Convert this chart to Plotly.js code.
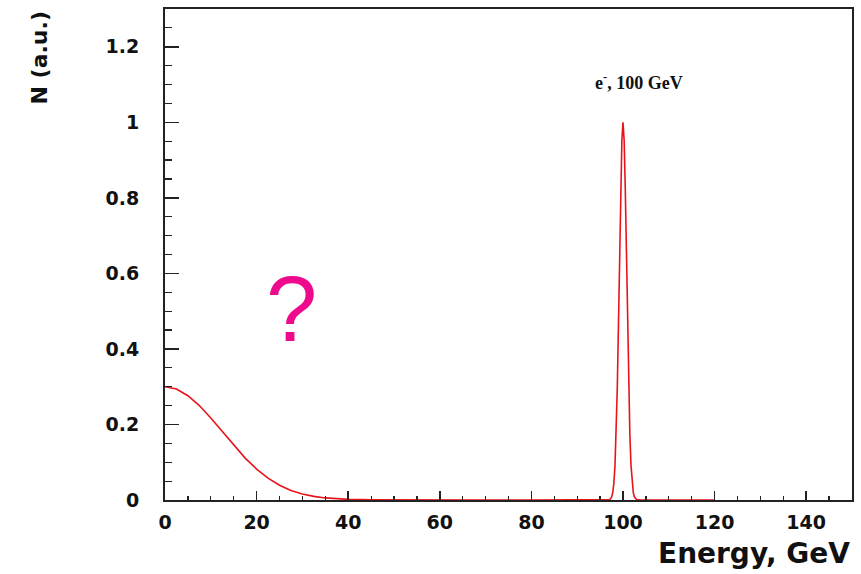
<!DOCTYPE html>
<html>
<head>
<meta charset="utf-8">
<script src="https://cdn.plot.ly/plotly-3.0.1.min.js"></script>
<style>html,body{margin:0;padding:0;background:#fff;}#chart{width:861px;height:574px;}</style>
</head>
<body>
<div id="chart"></div>
<script>
// Energy spectrum (GeV, arbitrary units)
const energy = [0, 2.5, 5, 7.5, 10, 12.5, 15, 17.5, 20, 22.5, 25, 27.5, 30, 32.5, 35, 37.5, 40, 45, 50, 60, 70, 80, 90, 96,
  97, 97.25, 97.5, 97.75, 98, 98.25, 98.5, 98.75, 99, 99.25, 99.5, 99.75, 100,
  100.25, 100.5, 100.75, 101, 101.25, 101.5, 101.75, 102, 102.25, 102.5, 102.75, 103, 104, 110, 120];
const counts = [0.300, 0.294, 0.276, 0.250, 0.217, 0.181, 0.144, 0.111, 0.082, 0.058, 0.039, 0.025, 0.016, 0.0096, 0.0055, 0.003, 0.0016, 0.0004, 0, 0, 0, 0, 0, 0,
  0.0009, 0.0027, 0.0076, 0.019, 0.044, 0.091, 0.172, 0.295, 0.458, 0.644, 0.823, 0.952, 1.0,
  0.952, 0.823, 0.644, 0.458, 0.295, 0.172, 0.091, 0.044, 0.019, 0.0076, 0.0027, 0.0009, 0, 0, 0];

const xTickVals = [0, 20, 40, 60, 80, 100, 120, 140];
const yTickVals = [0, 0.2, 0.4, 0.6, 0.8, 1, 1.2];
const yTickText = ["0", "0.2", "0.4", "0.6", "0.8", "1", "1.2"];

const particleLabel = "e<sup>-</sup>, 100 GeV";
const questionMark = "?";
const xTitle = "Energy, GeV";
const yTitle = "N (a.u.)";

const axisFont = {family: "DejaVu Sans", size: 19, color: "#111", weight: "bold"};

const trace = {
  x: energy, y: counts, type: "scatter", mode: "lines",
  line: {color: "#e8141c", width: 1.6}, hoverinfo: "skip"
};

const layout = {
  width: 861, height: 574,
  margin: {l: 165, r: 9, t: 9, b: 74},
  paper_bgcolor: "#fff", plot_bgcolor: "#fff",
  showlegend: false,
  xaxis: {
    range: [0, 150], tickvals: xTickVals, ticks: "inside", ticklen: 9, tickwidth: 1.5, tickcolor: "#222",
    showgrid: false, zeroline: false, showline: true, linecolor: "#222", linewidth: 2, mirror: true,
    tickfont: axisFont, ticklabelstandoff: 4,
    minor: {dtick: 5, ticks: "inside", ticklen: 4.5, tickwidth: 1.2, tickcolor: "#222", showgrid: false}
  },
  yaxis: {
    range: [0, 1.3], tickvals: yTickVals, ticktext: yTickText, ticks: "inside", ticklen: 14, tickwidth: 1.5, tickcolor: "#222",
    showgrid: false, zeroline: false, showline: true, linecolor: "#222", linewidth: 2, mirror: true,
    tickfont: axisFont, ticklabelstandoff: 20,
    minor: {dtick: 0.05, ticks: "inside", ticklen: 7, tickwidth: 1.2, tickcolor: "#222", showgrid: false}
  },
  annotations: [
    {text: particleLabel, x: 103.5, y: 1.108, xref: "x", yref: "y", showarrow: false,
     font: {family: "Liberation Serif", size: 18, color: "#111", weight: "bold"}},
    {text: questionMark, x: 27.7, y: 0.505, xref: "x", yref: "y", showarrow: false,
     font: {family: "Liberation Sans", size: 92, color: "#ee0a8c"}},
    {text: xTitle, x: 1, y: -0.072, xref: "paper", yref: "paper", xanchor: "right", yanchor: "top", showarrow: false,
     font: {family: "DejaVu Sans", size: 28, color: "#111", weight: "bold"}},
    {text: yTitle, x: -0.182, y: 1.0, xref: "paper", yref: "paper", xanchor: "center", yanchor: "top", textangle: -90, showarrow: false,
     font: {family: "DejaVu Sans", size: 22, color: "#111", weight: "bold"}}
  ]
};

Plotly.newPlot("chart", [trace], layout, {staticPlot: true, displayModeBar: false});
</script>
</body>
</html>
